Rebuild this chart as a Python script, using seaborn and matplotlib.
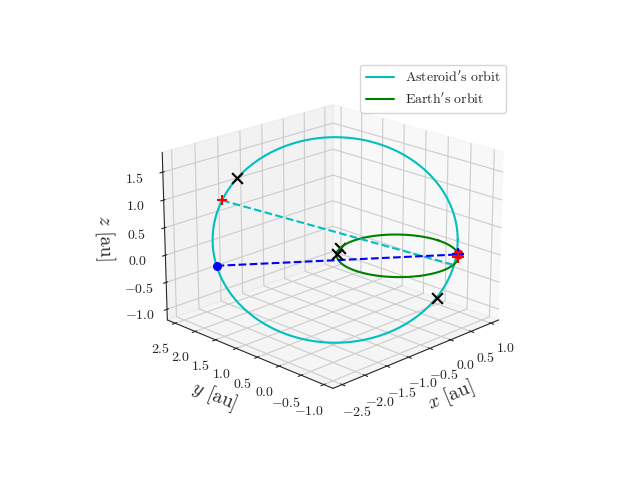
import numpy as np
import matplotlib
matplotlib.use("Agg")
import matplotlib.pyplot as plt
import matplotlib.ticker as mticker
import seaborn as sns

sns.set_style("white")
plt.rcParams.update({"font.family": "cmr10", "mathtext.fontset": "cm",
                     "axes.unicode_minus": False})

# asteroid ellipse: center, two semi-axis vectors
ast_center = [-0.75, 0.7, 0.3]
ast_u = [1.42, -1.42, 0.0]
ast_v = [0.5, 0.5, 1.6]
earth_radius = 1.0
# marker parameters (angles, rad)
ast_cross_angles = [2.5, -0.6]
ast_plus_angle = 2.75
ast_dot_angle = 3.4
earth_cross_angles = [2.0, 2.3]
earth_dot_angle = -0.75
earth_plus_angle = -0.85
ast_far_angle = -0.25

def ast(t):
    c, u, v = map(np.array, (ast_center, ast_u, ast_v))
    t = np.atleast_1d(t)
    return c[:, None] + u[:, None]*np.cos(t) + v[:, None]*np.sin(t)

def earth(t):
    t = np.atleast_1d(t)
    return np.vstack([earth_radius*np.cos(t), earth_radius*np.sin(t), 0*t])

fig = plt.figure(figsize=(6.4, 4.8), dpi=100)
ax = fig.add_subplot(projection="3d")
ax.view_init(elev=20, azim=-135)
th = np.linspace(0, 2*np.pi, 400)
A = ast(th); E = earth(th)
ax.plot(*A, color="c", label=r"$\mathrm{Asteroid's\ orbit}$")
ax.plot(*E, color="g", label=r"$\mathrm{Earth's\ orbit}$")
p1 = ast(ast_plus_angle); p2 = ast(ast_far_angle)
ax.plot([p1[0,0], p2[0,0]], [p1[1,0], p2[1,0]], [p1[2,0], p2[2,0]], "c--")
d1 = ast(ast_dot_angle); d2 = earth(earth_dot_angle)
ax.plot([d1[0,0], d2[0,0]], [d1[1,0], d2[1,0]], [d1[2,0], d2[2,0]], "b--")
ax.scatter(*d1, color="b", s=30, depthshade=False)
ax.scatter(*d2, color="r", s=40, depthshade=False)
ax.scatter(*d2, color="b", marker="+", s=80, depthshade=False)
ax.scatter(*p1, color="r", marker="+", s=60, depthshade=False)
ax.scatter(*earth(earth_plus_angle), color="r", marker="+", s=80, depthshade=False)
for a in ast_cross_angles:
    ax.scatter(*ast(a), color="k", marker="x", s=60, depthshade=False)
for a in earth_cross_angles:
    ax.scatter(*earth(a), color="k", marker="x", s=60, depthshade=False)
ax.set_xlim(-2.7, 1.2)
ax.set_ylim(-1.2, 2.7)
ax.set_zlim(-1.2, 1.85)
fmt = mticker.FuncFormatter(lambda v, p: "$%.1f$" % v)
for axis in (ax.xaxis, ax.yaxis, ax.zaxis):
    axis.set_major_formatter(fmt)
    axis.set_major_locator(mticker.MultipleLocator(0.5))
ax.set_xlabel("$x$ $\\mathrm{[au]}$", fontsize=14)
ax.set_ylabel("$y$ $\\mathrm{[au]}$", fontsize=14)
ax.set_zlabel("$z$ $\\mathrm{[au]}$", fontsize=14)
ax.legend(loc="upper right")
fig.savefig("out.png")
